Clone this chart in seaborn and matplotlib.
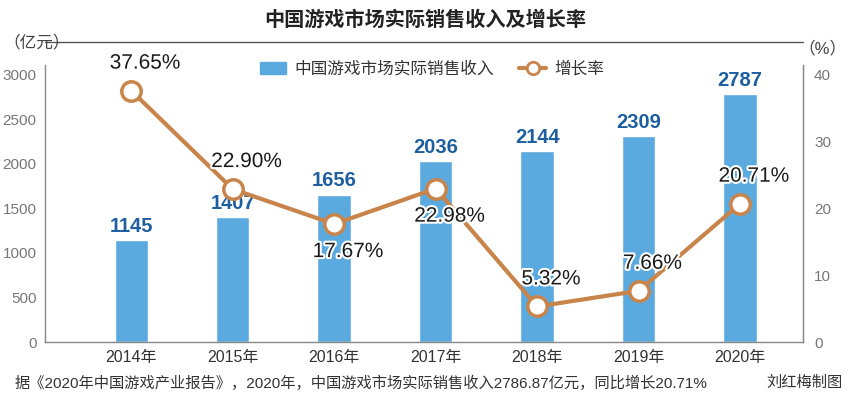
import numpy as np
import pandas as pd
import matplotlib.pyplot as plt
import matplotlib.patheffects as pe
from matplotlib.lines import Line2D
from matplotlib.patches import Patch
import seaborn as sns

sns.set_style("white")
plt.rcParams['font.family'] = ['Liberation Sans', 'Noto Sans CJK SC', 'DejaVu Sans']

years = ['2014年', '2015年', '2016年', '2017年', '2018年', '2019年', '2020年']
revenue = [1145, 1407, 1656, 2036, 2144, 2309, 2787]
growth = [37.65, 22.90, 17.67, 22.98, 5.32, 7.66, 20.71]
growth_above = [True, True, False, False, True, True, True]

bar_color = '#5aaadf'
line_color = '#c8844a'
label_blue = '#1d5f9f'

df = pd.DataFrame({'year': years, 'revenue': revenue})

fig = plt.figure(figsize=(8.5, 3.99), dpi=100)
ax = fig.add_axes([45 / 850, 1 - 342 / 399, 758 / 850, 277 / 399])

sns.barplot(data=df, x='year', y='revenue', color=bar_color, width=0.33,
            saturation=1, ax=ax)
ax.set_xlim(-0.85, 6.62)
ax.set_ylim(0, 3112)
ax.set_yticks(range(0, 3001, 500))
ax.set_xlabel('')
ax.set_ylabel('')
ax.tick_params(axis='y', labelsize=11, colors='#777777', length=0, pad=6)
ax.tick_params(axis='x', labelsize=11.5, colors='#333333', length=0, pad=6)
ax.spines['top'].set_visible(False)
for s in ['left', 'right', 'bottom']:
    ax.spines[s].set_color('#888888')
    ax.spines[s].set_linewidth(1)

for i, v in enumerate(revenue):
    ax.annotate(str(v), (i, v), xytext=(0, 3), textcoords='offset points',
                ha='center', va='bottom', fontsize=14.5, color=label_blue,
                fontweight='bold')

ax2 = ax.twinx()
x_pos = np.arange(len(years))
ax2.plot(x_pos, growth, color=line_color, lw=3, marker='o', ms=14,
         mfc='white', mec=line_color, mew=2.5, zorder=5)
ax2.set_ylim(0, 3112 / 3000 * 40)
ax2.set_yticks(range(0, 41, 10))
ax2.tick_params(axis='y', labelsize=11, colors='#777777', length=0, pad=8)
for s in ['top', 'left', 'bottom']:
    ax2.spines[s].set_visible(False)
ax2.spines['right'].set_color('#888888')

halo = [pe.withStroke(linewidth=3, foreground='white')]
for i, (g, up) in enumerate(zip(growth, growth_above)):
    dy = 13 if up else -13
    ax2.annotate(f'{g:.2f}%', (i, g), xytext=(10, dy), textcoords='offset points',
                 ha='center', va='bottom' if up else 'top', fontsize=15,
                 color='#1a1a1a', path_effects=halo, zorder=6)

# legend
handles = [Patch(color=bar_color, label='中国游戏市场实际销售收入'),
           Line2D([], [], color=line_color, lw=3, marker='o', ms=9, mfc='white',
                  mec=line_color, mew=2, label='增长率')]
fig.legend(handles=handles, loc='center', bbox_to_anchor=(432 / 850, 1 - 69 / 399),
           ncol=2, frameon=False, fontsize=12, handlelength=1.6, columnspacing=1.5,
           handletextpad=0.5, labelcolor='#333333')

# title and header line
fig.text(0.5, 1 - 20 / 399, '中国游戏市场实际销售收入及增长率', ha='center', va='center',
         fontsize=14.5, fontweight='bold', color='#222222')
fig.add_artist(Line2D([45 / 850, 803 / 850], [1 - 42 / 399, 1 - 42 / 399],
                      color='#555555', lw=1))
fig.text(3 / 850, 1 - 42 / 399, '（亿元）', ha='left', va='center', fontsize=12,
         color='#444444')
fig.text(847 / 850, 1 - 48 / 399, '（%）', ha='right', va='center', fontsize=12,
         color='#444444')

fig.text(15 / 850, 1 - 383 / 399,
         '据《2020年中国游戏产业报告》，2020年，中国游戏市场实际销售收入2786.87亿元，同比增长20.71%',
         ha='left', va='center', fontsize=11, color='#333333')
fig.text(843 / 850, 1 - 383 / 399, '刘红梅制图', ha='right', va='center',
         fontsize=11, color='#333333')

fig.savefig('out.png', dpi=100)
